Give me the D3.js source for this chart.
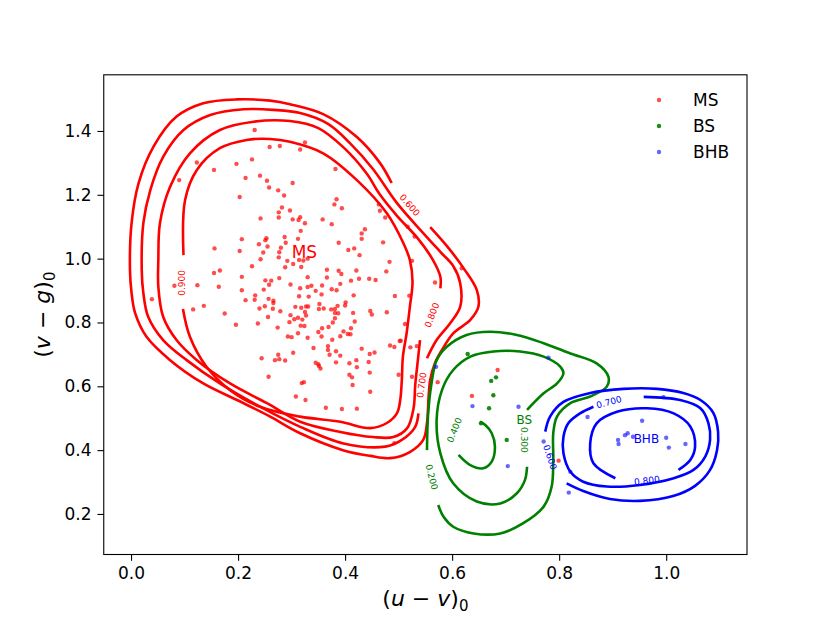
<!DOCTYPE html>
<html>
<head>
<meta charset="utf-8">
<script src="https://cdn.jsdelivr.net/npm/d3@7"></script>
<style>
body { margin: 0; background: #fff; }
text { font-family: "DejaVu Sans", sans-serif; }
</style>
</head>
<body>
<svg id="chart" width="830" height="623"></svg>
<script>
// ---- data: (u-v)_0 , (v-g)_0 ----
var xTicks = [0.0, 0.2, 0.4, 0.6, 0.8, 1.0]
var yTicks = [0.2, 0.4, 0.6, 0.8, 1.0, 1.2, 1.4]
var xDomain = [-0.051, 1.151]
var yDomain = [0.073, 1.576]

var groups = ['MS', 'BS', 'BHB']

var msPoints = [
  [0.155,1.278],[0.214,1.253],[0.241,1.260],[0.254,1.244],[0.258,1.223],[0.275,1.214],[0.286,1.198],[0.302,1.237],[0.203,1.193],[0.282,1.160],
  [0.276,1.145],[0.297,1.151],[0.276,1.129],[0.242,1.126],[0.302,1.123],[0.313,1.121],[0.316,1.130],[0.325,1.111],[0.358,1.123],[0.375,1.108],
  [0.384,1.186],[0.380,1.170],[0.394,1.158],[0.317,1.087],[0.312,1.062],[0.287,1.068],[0.289,1.050],[0.280,1.034],[0.277,1.020],[0.276,1.004],
  [0.253,1.064],[0.251,1.058],[0.255,1.038],[0.239,1.045],[0.247,1.019],[0.242,0.998],[0.207,1.061],[0.203,1.024],[0.156,1.032],[0.226,0.976],
  [0.292,0.993],[0.303,0.983],[0.314,0.996],[0.322,0.994],[0.330,1.000],[0.318,0.974],[0.288,0.973],[0.155,0.955],[0.166,0.963],[0.207,0.943],
  [0.251,0.932],[0.262,0.931],[0.258,0.918],[0.277,0.939],[0.298,0.919],[0.316,0.907],[0.330,0.942],[0.330,0.911],[0.337,0.915],[0.345,0.899],
  [0.356,0.888],[0.357,0.916],[0.366,0.965],[0.366,0.941],[0.388,0.962],[0.393,0.952],[0.391,0.921],[0.375,0.904],[0.384,0.901],[0.411,0.931],
  [0.421,0.963],[0.426,0.937],[0.445,0.937],[0.457,0.933],[0.477,0.960],[0.483,0.990],[0.471,1.051],[0.431,1.079],[0.437,1.092],[0.431,1.062],
  [0.417,1.032],[0.406,1.027],[0.427,1.011],[0.388,1.050],[0.463,1.170],[0.465,1.150],[0.475,1.129],[0.164,0.912],[0.207,0.901],[0.248,0.903],
  [0.232,0.885],[0.214,0.870],[0.231,0.871],[0.250,0.851],[0.240,0.844],[0.257,0.874],[0.266,0.868],[0.266,0.861],[0.265,0.843],[0.256,0.817],
  [0.279,0.835],[0.298,0.823],[0.314,0.882],[0.332,0.881],[0.307,0.849],[0.318,0.846],[0.327,0.850],[0.331,0.850],[0.325,0.833],[0.327,0.822],
  [0.312,0.815],[0.320,0.809],[0.317,0.790],[0.324,0.789],[0.305,0.810],[0.296,0.801],[0.352,0.858],[0.360,0.844],[0.351,0.842],[0.374,0.841],
  [0.381,0.842],[0.386,0.852],[0.381,0.830],[0.387,0.829],[0.401,0.863],[0.400,0.853],[0.416,0.885],[0.415,0.830],[0.418,0.803],[0.411,0.782],
  [0.405,0.764],[0.410,0.763],[0.397,0.772],[0.391,0.757],[0.381,0.813],[0.377,0.800],[0.369,0.786],[0.357,0.782],[0.350,0.770],[0.356,0.756],
  [0.376,0.746],[0.368,0.714],[0.371,0.699],[0.368,0.726],[0.383,0.710],[0.391,0.696],[0.383,0.675],[0.341,0.720],[0.330,0.752],[0.312,0.766],
  [0.300,0.754],[0.293,0.756],[0.274,0.784],[0.237,0.797],[0.196,0.793],[0.175,0.828],[0.136,0.852],[0.303,0.705],[0.288,0.681],[0.275,0.699],
  [0.269,0.682],[0.277,0.685],[0.244,0.688],[0.345,0.674],[0.350,0.669],[0.351,0.664],[0.354,0.656],[0.408,0.672],[0.421,0.682],[0.422,0.660],
  [0.431,0.718],[0.444,0.676],[0.446,0.701],[0.455,0.706],[0.493,0.883],[0.478,0.832],[0.450,0.825],[0.447,0.836],[0.484,0.728],[0.492,0.723],
  [0.502,0.742],
  [0.231,1.403],[0.259,1.350],[0.278,1.353],[0.316,1.342],[0.123,1.301],[0.197,1.297],[0.226,1.311],[0.090,1.246],
  [0.124,0.917],[0.081,0.915],[0.039,0.873],[0.116,0.841],[0.257,0.630],[0.308,0.568],
  [0.325,1.364],[0.382,1.281],[0.517,1.100],[0.530,1.069],[0.525,0.993],
  [0.568,0.925],[0.520,0.884],[0.512,0.795],[0.504,0.743],[0.522,0.722],[0.534,0.726],[0.500,0.636],[0.447,0.583],
  [0.414,0.604],[0.413,0.628],[0.408,0.636],[0.446,0.643],[0.323,0.613],[0.319,0.610],[0.326,0.557],[0.364,0.533],
  [0.394,0.529],[0.422,0.530],[0.492,0.422],[0.573,0.613],[0.637,0.570],[0.618,0.970],[0.525,0.630],[0.685,0.651],[0.799,0.367]
]

var bsPoints = [
  [0.629,0.701],[0.673,0.617],[0.682,0.628],[0.677,0.572],[0.669,0.531],[0.654,0.484],[0.702,0.432]
]

var bhbPoints = [
  [0.570,0.661],[0.780,0.690],[0.638,0.538],[0.724,0.536],[0.704,0.350],[0.853,0.504],[0.771,0.427],
  [0.821,0.332],[0.818,0.267],[0.910,0.432],[0.911,0.419],[0.955,0.492],[0.923,0.447],[0.928,0.453],
  [0.938,0.442],[1.000,0.439],[1.005,0.408],[1.036,0.419],[0.995,0.566]
]

// density contours (open where the inline labels cut them)
var ms600 = [
  [0.559,1.099],[0.590,1.040],[0.621,0.971],[0.646,0.902],[0.649,0.849],[0.634,0.808],[0.602,0.766],[0.581,0.714],
  [0.568,0.673],[0.559,0.620],[0.556,0.567],[0.553,0.485],[0.546,0.432],[0.521,0.394],[0.484,0.375],[0.447,0.382],
  [0.396,0.400],[0.316,0.453],[0.260,0.505],[0.198,0.557],[0.135,0.609],[0.073,0.682],[0.029,0.755],[0.0075,0.830],
  [0.001,0.892],[-0.002,0.964],[0.001,1.111],[0.014,1.236],[0.042,1.351],[0.085,1.445],[0.135,1.487],[0.198,1.499],
  [0.260,1.495],[0.297,1.484],[0.359,1.453],[0.422,1.381],[0.465,1.300],[0.487,1.237]
]
var ms700 = [
  [0.537,0.515],[0.531,0.473],[0.506,0.432],[0.475,0.411],[0.397,0.421],[0.316,0.473],[0.241,0.536],[0.166,0.609],
  [0.104,0.682],[0.060,0.745],[0.032,0.818],[0.023,0.892],[0.020,0.964],[0.023,1.111],[0.036,1.215],[0.060,1.319],
  [0.098,1.403],[0.148,1.450],[0.210,1.468],[0.266,1.466],[0.316,1.456],[0.368,1.422],[0.409,1.362],[0.452,1.281],
  [0.497,1.174],[0.546,1.080],[0.578,1.021],[0.602,0.977],[0.615,0.924],[0.615,0.849],[0.596,0.797],[0.571,0.745],[0.553,0.688]
]
var ms800 = [
  [0.540,0.745],[0.535,0.667],[0.531,0.604],[0.528,0.532],[0.516,0.469],[0.490,0.441],[0.452,0.441],[0.391,0.457],
  [0.316,0.489],[0.254,0.547],[0.185,0.609],[0.123,0.682],[0.085,0.745],[0.060,0.818],[0.051,0.912],[0.051,0.996],
  [0.054,1.111],[0.073,1.225],[0.110,1.330],[0.166,1.403],[0.229,1.429],[0.297,1.431],[0.350,1.409],[0.398,1.347],
  [0.441,1.265],[0.464,1.203],[0.497,1.134],[0.535,1.065],[0.564,0.996],[0.578,0.943],[0.578,0.907]
]
var ms900 = [
  [0.097,0.842],[0.110,0.755],[0.141,0.661],[0.185,0.588],[0.241,0.536],[0.316,0.505],[0.391,0.489],[0.447,0.469],
  [0.478,0.485],[0.497,0.516],[0.503,0.557],[0.506,0.620],[0.508,0.693],[0.515,0.767],[0.521,0.849],[0.526,0.927],
  [0.521,0.996],[0.509,1.048],[0.478,1.142],[0.422,1.246],[0.359,1.330],[0.297,1.366],[0.260,1.375],[0.216,1.372],
  [0.166,1.346],[0.123,1.278],[0.101,1.184],[0.098,1.011]
]
var bs200 = [
  [0.553,0.400],[0.555,0.510],[0.561,0.604],[0.571,0.682],[0.590,0.724],[0.627,0.761],[0.671,0.771],[0.721,0.761],
  [0.771,0.735],[0.821,0.703],[0.870,0.672],[0.892,0.630],[0.889,0.599],[0.858,0.568],[0.821,0.547],[0.796,0.505],
  [0.789,0.453],[0.789,0.369],[0.786,0.286],[0.771,0.223],[0.733,0.171],[0.690,0.139],[0.640,0.139],[0.602,0.160],
  [0.584,0.191],[0.574,0.228]
]
var bs300 = [
  [0.740,0.526],[0.771,0.578],[0.796,0.609],[0.808,0.641],[0.802,0.662],[0.771,0.693],[0.727,0.709],[0.677,0.709],
  [0.634,0.693],[0.602,0.651],[0.581,0.588],[0.571,0.494],[0.578,0.390],[0.602,0.296],[0.646,0.239],[0.690,0.233],
  [0.721,0.265],[0.736,0.306],[0.740,0.348]
]
var bs400 = [
  [0.612,0.385],[0.634,0.353],[0.658,0.343],[0.674,0.364],[0.680,0.411],[0.674,0.453],[0.662,0.479],[0.652,0.489]
]
var bhb600 = [
  [0.814,0.296],[0.845,0.272],[0.895,0.247],[0.951,0.241],[1.013,0.256],[1.054,0.288],[1.082,0.338],[1.095,0.400],
  [1.097,0.457],[1.088,0.517],[1.064,0.557],[1.032,0.579],[0.983,0.592],[0.920,0.592],[0.858,0.579],[0.808,0.551],
  [0.783,0.505],[0.774,0.458]
]
var bhb700 = [
  [0.958,0.567],[1.026,0.557],[1.064,0.531],[1.079,0.484],[1.082,0.432],[1.073,0.380],[1.051,0.338],[1.014,0.312],
  [0.951,0.291],[0.889,0.286],[0.845,0.301],[0.821,0.332],[0.808,0.390],[0.808,0.442],[0.817,0.484],[0.839,0.515],[0.864,0.536]
]
var bhb800 = [
  [1.023,0.338],[1.045,0.369],[1.054,0.411],[1.045,0.474],[1.014,0.515],[0.964,0.531],[0.908,0.520],[0.870,0.484],
  [0.858,0.421],[0.864,0.359],[0.905,0.312]
]

var levelText = ['0.600', '0.700', '0.800', '0.900', '0.200', '0.300', '0.400', '0.600', '0.700', '0.800']
var levelAt = [[0.521,1.168],[0.543,0.604],[0.562,0.823],[0.094,0.924],[0.562,0.316],[0.735,0.432],[0.604,0.463],[0.783,0.378],[0.893,0.551],[0.964,0.305]]
var groupAt = [[0.324,1.021],[0.735,0.494],[0.963,0.435]]

// ---- drawing ----
var colors = { MS: 'red', BS: 'green', BHB: 'blue' }
var dotOpacity = { MS: 0.7, BS: 0.9, BHB: 0.6 }

var contours = [
  { g: 'MS', pts: ms600 }, { g: 'MS', pts: ms700 }, { g: 'MS', pts: ms800 }, { g: 'MS', pts: ms900 },
  { g: 'BS', pts: bs200 }, { g: 'BS', pts: bs300 }, { g: 'BS', pts: bs400 },
  { g: 'BHB', pts: bhb600 }, { g: 'BHB', pts: bhb700 }, { g: 'BHB', pts: bhb800 }
]
var labelGroup = ['MS', 'MS', 'MS', 'MS', 'BS', 'BS', 'BS', 'BHB', 'BHB', 'BHB']
var labelAngle = [49, -82, -69, -90, 76, 90, -68, 72, -15, -7]

var svg = d3.select('#chart')
var pLeft = 103.75, pRight = 747, pTop = 74.8, pBottom = 554.5

var x = d3.scaleLinear().domain(xDomain).range([pLeft, pRight])
var y = d3.scaleLinear().domain(yDomain).range([pBottom, pTop])

svg.append('rect').attr('width', 830).attr('height', 623).attr('fill', '#fff')

svg.append('clipPath').attr('id', 'clip')
  .append('rect').attr('x', pLeft).attr('y', pTop).attr('width', pRight - pLeft).attr('height', pBottom - pTop)

var plot = svg.append('g').attr('clip-path', 'url(#clip)')

var line = d3.line()
  .x(function (d) { return x(d[0]) })
  .y(function (d) { return y(d[1]) })
  .curve(d3.curveCatmullRom.alpha(0.5))

plot.selectAll('path.contour')
  .data(contours)
  .enter().append('path')
  .attr('class', 'contour')
  .attr('d', function (d) { return line(d.pts) })
  .attr('fill', 'none')
  .attr('stroke', function (d) { return colors[d.g] })
  .attr('stroke-width', 2.6)

plot.selectAll('text.level')
  .data(levelText)
  .enter().append('text')
  .attr('class', 'level')
  .attr('transform', function (d, i) {
    return 'translate(' + x(levelAt[i][0]) + ',' + y(levelAt[i][1]) + ') rotate(' + labelAngle[i] + ')'
  })
  .attr('text-anchor', 'middle')
  .attr('dy', '0.36em')
  .attr('font-size', 9)
  .attr('fill', function (d, i) { return colors[labelGroup[i]] })
  .text(function (d) { return d })

var series = [
  { g: 'MS', pts: msPoints }, { g: 'BS', pts: bsPoints }, { g: 'BHB', pts: bhbPoints }
]

series.forEach(function (s) {
  plot.selectAll(null)
    .data(s.pts)
    .enter().append('circle')
    .attr('cx', function (d) { return x(d[0]) })
    .attr('cy', function (d) { return y(d[1]) })
    .attr('r', 2.2)
    .attr('fill', colors[s.g])
    .attr('fill-opacity', dotOpacity[s.g])
})

plot.selectAll('text.group')
  .data(groups)
  .enter().append('text')
  .attr('class', 'group')
  .attr('x', function (d, i) { return x(groupAt[i][0]) })
  .attr('y', function (d, i) { return y(groupAt[i][1]) })
  .attr('dy', '0.36em')
  .attr('text-anchor', 'middle')
  .attr('font-size', function (d) { return d == 'MS' ? 17 : 12 })
  .attr('fill', function (d) { return colors[d] })
  .text(function (d) { return d })

// axes
var xAxis = svg.append('g')
  .attr('transform', 'translate(0,' + pBottom + ')')
  .call(d3.axisBottom(x).tickValues(xTicks).tickFormat(d3.format('.1f')).tickSize(6.3).tickSizeOuter(0).tickPadding(6))
var yAxis = svg.append('g')
  .attr('transform', 'translate(' + pLeft + ',0)')
  .call(d3.axisLeft(y).tickValues(yTicks).tickFormat(d3.format('.1f')).tickSize(6.3).tickSizeOuter(0).tickPadding(6))

;[xAxis, yAxis].forEach(function (a) {
  a.select('.domain').remove()
  a.selectAll('line').attr('stroke', '#000').attr('stroke-width', 1.1)
  a.selectAll('text').attr('font-size', 17).attr('font-family', '"DejaVu Sans", sans-serif').attr('fill', '#000')
})

svg.append('rect')
  .attr('x', pLeft).attr('y', pTop).attr('width', pRight - pLeft).attr('height', pBottom - pTop)
  .attr('fill', 'none').attr('stroke', '#000').attr('stroke-width', 1.1)

function mathLabel(sel, a, b) {
  sel.append('tspan').text('(')
  sel.append('tspan').attr('font-style', 'italic').text(a)
  sel.append('tspan').text(' \u2212 ')
  sel.append('tspan').attr('font-style', 'italic').text(b)
  sel.append('tspan').text(')')
  sel.append('tspan').attr('font-size', 15).attr('dy', 5).text('0')
}

svg.append('text')
  .attr('x', (pLeft + pRight) / 2).attr('y', 606)
  .attr('text-anchor', 'middle').attr('font-size', 22)
  .call(mathLabel, 'u', 'v')

svg.append('text')
  .attr('transform', 'translate(50,' + (pTop + pBottom) / 2 + ') rotate(-90)')
  .attr('text-anchor', 'middle').attr('font-size', 22)
  .call(mathLabel, 'v', 'g')

// legend
var legend = svg.append('g').attr('transform', 'translate(659,100)')
var item = legend.selectAll('g')
  .data(groups)
  .enter().append('g')
  .attr('transform', function (d, i) { return 'translate(0,' + i * 26 + ')' })
item.append('circle')
  .attr('r', 2.2)
  .attr('fill', function (d) { return colors[d] })
  .attr('fill-opacity', function (d) { return dotOpacity[d] })
item.append('text')
  .attr('x', 34).attr('dy', '0.36em')
  .attr('font-size', 17)
  .text(function (d) { return d })
</script>
</body>
</html>
